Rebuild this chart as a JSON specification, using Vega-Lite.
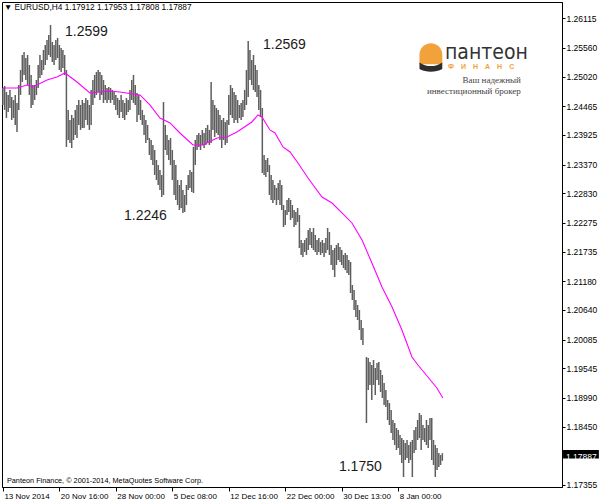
{
"$schema":"https://vega.github.io/schema/vega-lite/v6.json",
"width":560,"height":485,
"autosize":{"type":"none"},
"padding":{"left":2,"top":2,"right":38,"bottom":17},
"background":"white",
"config":{"view":{"stroke":"black","strokeWidth":1},"font":"Liberation Sans"},
"datasets":{
"bars":[
{"i":0,"p":1.24807,"l":1.24488},{"i":1,"p":1.24845,"l":1.24394},{"i":2,"p":1.24732,"l":1.24244},{"i":3,"p":1.24676,"l":1.24357},{"i":4,"p":1.24770,"l":1.24432},{"i":5,"p":1.24638,"l":1.24206},{"i":6,"p":1.24582,"l":1.24244},{"i":7,"p":1.24676,"l":1.24113},{"i":8,"p":1.24526,"l":1.23981},{"i":9,"p":1.24863,"l":1.24394},
{"i":10,"p":1.25145,"l":1.24676},{"i":11,"p":1.25427,"l":1.24920},{"i":12,"p":1.25483,"l":1.25051},{"i":13,"p":1.25370,"l":1.24957},{"i":14,"p":1.25427,"l":1.24863},{"i":15,"p":1.25239,"l":1.24676},{"i":16,"p":1.25051,"l":1.24432},{"i":17,"p":1.24863,"l":1.24488},{"i":18,"p":1.24863,"l":1.24582},{"i":19,"p":1.24957,"l":1.24676},
{"i":20,"p":1.25239,"l":1.24807},{"i":21,"p":1.25427,"l":1.24995},{"i":22,"p":1.25333,"l":1.25051},{"i":23,"p":1.25520,"l":1.25145},{"i":24,"p":1.25614,"l":1.25239},{"i":25,"p":1.25708,"l":1.25333},{"i":26,"p":1.25802,"l":1.25427},{"i":27,"p":1.25990,"l":1.25389},{"i":28,"p":1.25671,"l":1.25295},{"i":29,"p":1.25614,"l":1.25239},
{"i":30,"p":1.25708,"l":1.25333},{"i":31,"p":1.25746,"l":1.25370},{"i":32,"p":1.25614,"l":1.25145},{"i":33,"p":1.25558,"l":1.25107},{"i":34,"p":1.25520,"l":1.25182},{"i":35,"p":1.25427,"l":1.25051},{"i":36,"p":1.25145,"l":1.23700},{"i":37,"p":1.24394,"l":1.23831},{"i":38,"p":1.24206,"l":1.23775},{"i":39,"p":1.24300,"l":1.23681},
{"i":40,"p":1.24244,"l":1.23831},{"i":41,"p":1.24394,"l":1.23925},{"i":42,"p":1.24488,"l":1.23868},{"i":43,"p":1.24582,"l":1.24113},{"i":44,"p":1.24488,"l":1.24019},{"i":45,"p":1.24582,"l":1.24056},{"i":46,"p":1.24526,"l":1.24056},{"i":47,"p":1.24619,"l":1.24206},{"i":48,"p":1.24582,"l":1.24113},{"i":49,"p":1.24488,"l":1.24019},
{"i":50,"p":1.24770,"l":1.24113},{"i":51,"p":1.24957,"l":1.24488},{"i":52,"p":1.25051,"l":1.24619},{"i":53,"p":1.25107,"l":1.24676},{"i":54,"p":1.25145,"l":1.24732},{"i":55,"p":1.25107,"l":1.24582},{"i":56,"p":1.25051,"l":1.24676},{"i":57,"p":1.24957,"l":1.24526},{"i":58,"p":1.24863,"l":1.24582},{"i":59,"p":1.24807,"l":1.24526},
{"i":60,"p":1.24826,"l":1.24582},{"i":61,"p":1.24807,"l":1.24526},{"i":62,"p":1.24770,"l":1.24582},{"i":63,"p":1.24732,"l":1.24488},{"i":64,"p":1.24676,"l":1.24394},{"i":65,"p":1.24619,"l":1.24300},{"i":66,"p":1.24582,"l":1.24244},{"i":67,"p":1.24676,"l":1.24357},{"i":68,"p":1.24582,"l":1.24244},{"i":69,"p":1.24526,"l":1.24206},
{"i":70,"p":1.24619,"l":1.24300},{"i":71,"p":1.24582,"l":1.24357},{"i":72,"p":1.24770,"l":1.24394},{"i":73,"p":1.24957,"l":1.24582},{"i":74,"p":1.25051,"l":1.24526},{"i":75,"p":1.24863,"l":1.24488},{"i":76,"p":1.24713,"l":1.24169},{"i":77,"p":1.24676,"l":1.24300},{"i":78,"p":1.24582,"l":1.24206},{"i":79,"p":1.24394,"l":1.24113},
{"i":80,"p":1.24300,"l":1.23925},{"i":81,"p":1.24206,"l":1.23775},{"i":82,"p":1.24113,"l":1.23831},{"i":83,"p":1.23868,"l":1.23549},{"i":84,"p":1.23831,"l":1.23455},{"i":85,"p":1.23737,"l":1.23362},{"i":86,"p":1.23643,"l":1.23174},{"i":87,"p":1.23455,"l":1.23080},{"i":88,"p":1.23362,"l":1.22986},{"i":89,"p":1.23268,"l":1.22892},
{"i":90,"p":1.23174,"l":1.22761},{"i":91,"p":1.24544,"l":1.22798},{"i":92,"p":1.24113,"l":1.23643},{"i":93,"p":1.23925,"l":1.23549},{"i":94,"p":1.23831,"l":1.23455},{"i":95,"p":1.23868,"l":1.23362},{"i":96,"p":1.23643,"l":1.23080},{"i":97,"p":1.23455,"l":1.22798},{"i":98,"p":1.23362,"l":1.22705},{"i":99,"p":1.23080,"l":1.22611},
{"i":100,"p":1.22986,"l":1.22517},{"i":101,"p":1.23080,"l":1.22554},{"i":102,"p":1.22892,"l":1.22461},{"i":103,"p":1.22798,"l":1.22479},{"i":104,"p":1.22986,"l":1.22611},{"i":105,"p":1.23174,"l":1.22892},{"i":106,"p":1.23268,"l":1.22930},{"i":107,"p":1.23230,"l":1.22855},{"i":108,"p":1.23700,"l":1.22836},{"i":109,"p":1.23831,"l":1.23362},
{"i":110,"p":1.23925,"l":1.23643},{"i":111,"p":1.23962,"l":1.23700},{"i":112,"p":1.23925,"l":1.23643},{"i":113,"p":1.24019,"l":1.23737},{"i":114,"p":1.23962,"l":1.23681},{"i":115,"p":1.24056,"l":1.23737},{"i":116,"p":1.24113,"l":1.23775},{"i":117,"p":1.24019,"l":1.23737},{"i":118,"p":1.24920,"l":1.23775},{"i":119,"p":1.24582,"l":1.24019},
{"i":120,"p":1.24488,"l":1.23887},{"i":121,"p":1.24432,"l":1.23962},{"i":122,"p":1.24394,"l":1.23925},{"i":123,"p":1.24300,"l":1.23831},{"i":124,"p":1.24206,"l":1.23681},{"i":125,"p":1.24244,"l":1.23831},{"i":126,"p":1.24169,"l":1.23737},{"i":127,"p":1.24206,"l":1.23775},{"i":128,"p":1.24676,"l":1.24113},{"i":129,"p":1.24863,"l":1.24300},
{"i":130,"p":1.24807,"l":1.24244},{"i":131,"p":1.24732,"l":1.24150},{"i":132,"p":1.24676,"l":1.24206},{"i":133,"p":1.24582,"l":1.24150},{"i":134,"p":1.24488,"l":1.24244},{"i":135,"p":1.24526,"l":1.24206},{"i":136,"p":1.24582,"l":1.24263},{"i":137,"p":1.24770,"l":1.24394},{"i":138,"p":1.25145,"l":1.24488},{"i":139,"p":1.25690,"l":1.24638},
{"i":140,"p":1.25520,"l":1.24957},{"i":141,"p":1.25333,"l":1.24863},{"i":142,"p":1.25427,"l":1.24770},{"i":143,"p":1.25239,"l":1.24732},{"i":144,"p":1.25145,"l":1.24638},{"i":145,"p":1.24863,"l":1.24394},{"i":146,"p":1.24770,"l":1.24263},{"i":147,"p":1.24432,"l":1.23211},{"i":148,"p":1.23549,"l":1.23174},{"i":149,"p":1.23455,"l":1.23136},
{"i":150,"p":1.23493,"l":1.23230},{"i":151,"p":1.23362,"l":1.22798},{"i":152,"p":1.23174,"l":1.22705},{"i":153,"p":1.23080,"l":1.22648},{"i":154,"p":1.22986,"l":1.22705},{"i":155,"p":1.22930,"l":1.22611},{"i":156,"p":1.23024,"l":1.22705},{"i":157,"p":1.23080,"l":1.22611},{"i":158,"p":1.22986,"l":1.22517},{"i":159,"p":1.22611,"l":1.22198},
{"i":160,"p":1.22517,"l":1.22235},{"i":161,"p":1.22705,"l":1.22423},{"i":162,"p":1.22742,"l":1.22479},{"i":163,"p":1.22705,"l":1.22329},{"i":164,"p":1.22611,"l":1.22367},{"i":165,"p":1.22517,"l":1.22198},{"i":166,"p":1.22479,"l":1.22235},{"i":167,"p":1.22554,"l":1.22292},{"i":168,"p":1.22423,"l":1.21803},{"i":169,"p":1.21954,"l":1.21672},
{"i":170,"p":1.21897,"l":1.21635},{"i":171,"p":1.21954,"l":1.21728},{"i":172,"p":1.21991,"l":1.21672},{"i":173,"p":1.22141,"l":1.21766},{"i":174,"p":1.22179,"l":1.21860},{"i":175,"p":1.22104,"l":1.21803},{"i":176,"p":1.22179,"l":1.21766},{"i":177,"p":1.22048,"l":1.21728},{"i":178,"p":1.21954,"l":1.21672},{"i":179,"p":1.21991,"l":1.21728},
{"i":180,"p":1.21916,"l":1.21672},{"i":181,"p":1.21954,"l":1.21709},{"i":182,"p":1.21897,"l":1.21635},{"i":183,"p":1.21991,"l":1.21709},{"i":184,"p":1.22179,"l":1.21766},{"i":185,"p":1.22104,"l":1.21672},{"i":186,"p":1.21860,"l":1.21484},{"i":187,"p":1.21766,"l":1.21391},{"i":188,"p":1.21803,"l":1.21259},{"i":189,"p":1.21860,"l":1.21484},
{"i":190,"p":1.21897,"l":1.21578},{"i":191,"p":1.21822,"l":1.21541},{"i":192,"p":1.21766,"l":1.21484},{"i":193,"p":1.21672,"l":1.21428},{"i":194,"p":1.21709,"l":1.21391},{"i":195,"p":1.21672,"l":1.21334},{"i":196,"p":1.21578,"l":1.21297},{"i":197,"p":1.21541,"l":1.20959},{"i":198,"p":1.21109,"l":1.20827},{"i":199,"p":1.21015,"l":1.20640},
{"i":200,"p":1.20827,"l":1.20508},{"i":201,"p":1.20734,"l":1.20452},{"i":202,"p":1.20640,"l":1.20264},{"i":203,"p":1.20452,"l":1.20077},{"i":204,"p":1.20302,"l":1.19983},{"i":206,"p":1.19757,"l":1.18518},{"i":207,"p":1.19739,"l":1.19138},{"i":208,"p":1.19664,"l":1.19232},{"i":209,"p":1.19607,"l":1.18950},
{"i":210,"p":1.19701,"l":1.19232},{"i":211,"p":1.19551,"l":1.19044},{"i":212,"p":1.19645,"l":1.19326},{"i":213,"p":1.19664,"l":1.19232},{"i":214,"p":1.19513,"l":1.19100},{"i":215,"p":1.19420,"l":1.18988},{"i":216,"p":1.19269,"l":1.18856},{"i":217,"p":1.19138,"l":1.18819},{"i":218,"p":1.18950,"l":1.18575},{"i":219,"p":1.18894,"l":1.18481},
{"i":220,"p":1.18762,"l":1.18331},{"i":221,"p":1.18575,"l":1.18199},{"i":222,"p":1.18518,"l":1.18106},{"i":223,"p":1.18424,"l":1.18012},{"i":224,"p":1.18387,"l":1.18049},{"i":225,"p":1.18293,"l":1.17918},{"i":226,"p":1.18237,"l":1.17768},{"i":227,"p":1.18199,"l":1.17505},{"i":228,"p":1.18143,"l":1.17824},{"i":229,"p":1.18199,"l":1.17861},
{"i":230,"p":1.18106,"l":1.17768},{"i":231,"p":1.18162,"l":1.17824},{"i":232,"p":1.18199,"l":1.17505},{"i":233,"p":1.18387,"l":1.17955},{"i":234,"p":1.18443,"l":1.18012},{"i":235,"p":1.18575,"l":1.18199},{"i":236,"p":1.18706,"l":1.18237},{"i":237,"p":1.18668,"l":1.18012},{"i":238,"p":1.18481,"l":1.18199},{"i":239,"p":1.18424,"l":1.18162},
{"i":240,"p":1.18575,"l":1.18106},{"i":241,"p":1.18481,"l":1.18049},{"i":242,"p":1.18612,"l":1.18199},{"i":243,"p":1.18612,"l":1.17824},{"i":244,"p":1.18199,"l":1.17730},{"i":245,"p":1.18106,"l":1.17505},{"i":246,"p":1.18049,"l":1.17636},{"i":247,"p":1.17955,"l":1.17693},{"i":248,"p":1.17918,"l":1.17730},{"i":249,"p":1.17953,"l":1.17808}
],
"ma":[
{"i":0,"p":1.24807},{"i":8,"p":1.24807},{"i":13.7,"p":1.24863},{"i":17,"p":1.24826},{"i":25,"p":1.24957},{"i":30.6,"p":1.25014},{"i":35.2,"p":1.25089},{"i":42,"p":1.24920},{"i":49.3,"p":1.24713},{"i":55,"p":1.24732},{"i":60.7,"p":1.24751},{"i":66.3,"p":1.24732},{"i":73.7,"p":1.24694},{"i":77.7,"p":1.24676},{"i":83.3,"p":1.24488},{"i":89,"p":1.24244},{"i":94.7,"p":1.24150},{"i":100.3,"p":1.23962},{"i":107.7,"p":1.23737},{"i":113.4,"p":1.23737},{"i":121.3,"p":1.23868},{"i":127,"p":1.23887},{"i":132.6,"p":1.23981},{"i":136,"p":1.24056},{"i":141.1,"p":1.24169},{"i":144.5,"p":1.24300},{"i":146.8,"p":1.24263},{"i":151.3,"p":1.24019},{"i":154.2,"p":1.23962},{"i":158.7,"p":1.23700},{"i":162.7,"p":1.23606},{"i":167.2,"p":1.23399},{"i":172.9,"p":1.23118},{"i":180.8,"p":1.22761},{"i":186.5,"p":1.22648},{"i":192.1,"p":1.22461},{"i":197.8,"p":1.22273},{"i":203.5,"p":1.21954},{"i":209.1,"p":1.21522},{"i":214.8,"p":1.21071},{"i":220.5,"p":1.20696},{"i":226.1,"p":1.20264},{"i":231.8,"p":1.19757},{"i":235.2,"p":1.19607},{"i":240.8,"p":1.19382},{"i":245.9,"p":1.19176},{"i":249.3,"p":1.18988}
],
"notes":[
{"i":35.2,"p":1.25858,"t":"1.2599"},{"i":147.4,"p":1.25614,"t":"1.2569"},{"i":68.6,"p":1.22404,"t":"1.2246"},{"i":190.4,"p":1.17693,"t":"1.1750"}
],
"header":[
{"i":0.6,"p":1.26309,"t":"▼ EURUSD,H4  1.17912 1.17953 1.17808 1.17887"}
],
"copy":[
{"i":2.3,"p":1.17430,"t":"Panteon Finance, © 2001-2014, MetaQuotes Software Corp."}
],
"box":[{"i":317.4,"i2":337.7,"p":1.18012,"l":1.17852}],
"boxtext":[{"i":319.0,"p":1.17887,"t":"1.17887"}]
},
"encoding":{
"x":{"field":"i","type":"quantitative","scale":{"domain":[-0.5,316.8],"nice":false,"zero":false},
 "axis":{"title":null,"values":[0,32,64,96,128,160,192,224],
 "labelExpr":"['13 Nov 2014','20 Nov 16:00','28 Nov 00:00','5 Dec 08:00','12 Dec 16:00','22 Dec 00:00','30 Dec 13:00','8 Jan 00:00'][round(datum.value/32)]",
 "labelAlign":"left","labelOffset":1,"labelFontSize":8,"labelColor":"black","labelFont":"Liberation Sans","tickColor":"black","tickSize":4,"domainColor":"black","labelPadding":1,"grid":false,"labelFlush":false,"labelOverlap":false,"labelBound":false}},
"y":{"field":"p","type":"quantitative","scale":{"domain":[1.17317,1.26421],"nice":false,"zero":false},
 "axis":{"orient":"right","title":null,"values":[1.26115,1.2556,1.2502,1.24465,1.23925,1.2337,1.2283,1.22275,1.21735,1.2118,1.2064,1.20085,1.19545,1.1899,1.1845,1.17355],
 "format":".5f","labelFontSize":8.5,"labelColor":"black","labelFont":"Liberation Sans","tickColor":"black","tickSize":3,"labelPadding":1,"domainColor":"black","grid":false,"labelFlush":false,"labelOverlap":false}}
},
"layer":[
{"data":{"name":"bars"},"mark":{"type":"rule","color":"#5e5e5e","strokeWidth":1.5},"encoding":{"y2":{"field":"l"}}},
{"data":{"name":"ma"},"mark":{"type":"line","color":"#ff00ff","strokeWidth":1.1},"encoding":{}},
{"data":{"name":"notes"},"mark":{"type":"text","align":"left","baseline":"middle","fontSize":14,"font":"Liberation Sans","color":"#1a1a1a"},"encoding":{"text":{"field":"t"}}},
{"data":{"name":"header"},"mark":{"type":"text","align":"left","baseline":"middle","fontSize":8.3,"font":"Liberation Sans","color":"black"},"encoding":{"text":{"field":"t"}}},
{"data":{"name":"copy"},"mark":{"type":"text","align":"left","baseline":"middle","fontSize":7.3,"font":"Liberation Sans","color":"black"},"encoding":{"text":{"field":"t"}}},
{"data":{"values":[{"i":242.5,"p":1.25389}]},"mark":{"type":"point","filled":true,"opacity":1,"strokeWidth":0,"size":576,"color":"#f2a23a","shape":"M-0.95,0.6 L-0.95,-0.2 A0.95,0.95 0 0 1 0.95,-0.2 L0.95,0.6 Z"},"encoding":{}},
{"data":{"values":[{"i":242.5,"p":1.25389}]},"mark":{"type":"point","filled":true,"opacity":1,"strokeWidth":0,"size":576,"color":"#2e2e2e","shape":"M-0.95,0.45 C-0.4,0.85 0.4,0.85 0.95,0.45 L0.95,1.0 C0.4,1.3 -0.4,1.3 -0.95,1.0 Z"},"encoding":{}},
{"data":{"values":[{"i":250.5,"p":1.25465,"t":"пантеон"}]},"mark":{"type":"text","align":"left","baseline":"middle","fontSize":21,"font":"Liberation Sans Narrow, DejaVu Sans Condensed, sans-serif","color":"#333333"},"encoding":{"text":{"field":"t"}}},
{"data":{"values":[{"i":252.2,"p":1.25195,"t":"Ф\u2003И\u2003Н\u2003А\u2003Н\u2003С"}]},"mark":{"type":"text","align":"left","baseline":"middle","fontSize":7,"fontWeight":"bold","font":"Liberation Sans","color":"#f2a23a"},"encoding":{"text":{"field":"t"}}},
{"data":{"values":[{"i":293.5,"p":1.24957,"t":"Ваш надежный"},{"i":293.5,"p":1.24751,"t":"инвестиционный брокер"}]},"mark":{"type":"text","align":"right","baseline":"middle","fontSize":9,"font":"Liberation Serif","color":"#444444"},"encoding":{"text":{"field":"t"}}},
{"data":{"name":"box"},"mark":{"type":"rect","color":"black"},"encoding":{"x2":{"field":"i2"},"y2":{"field":"l"}}},
{"data":{"name":"boxtext"},"mark":{"type":"text","align":"left","baseline":"middle","fontSize":8.5,"font":"Liberation Sans","color":"white"},"encoding":{"text":{"field":"t"}}}
]
}
